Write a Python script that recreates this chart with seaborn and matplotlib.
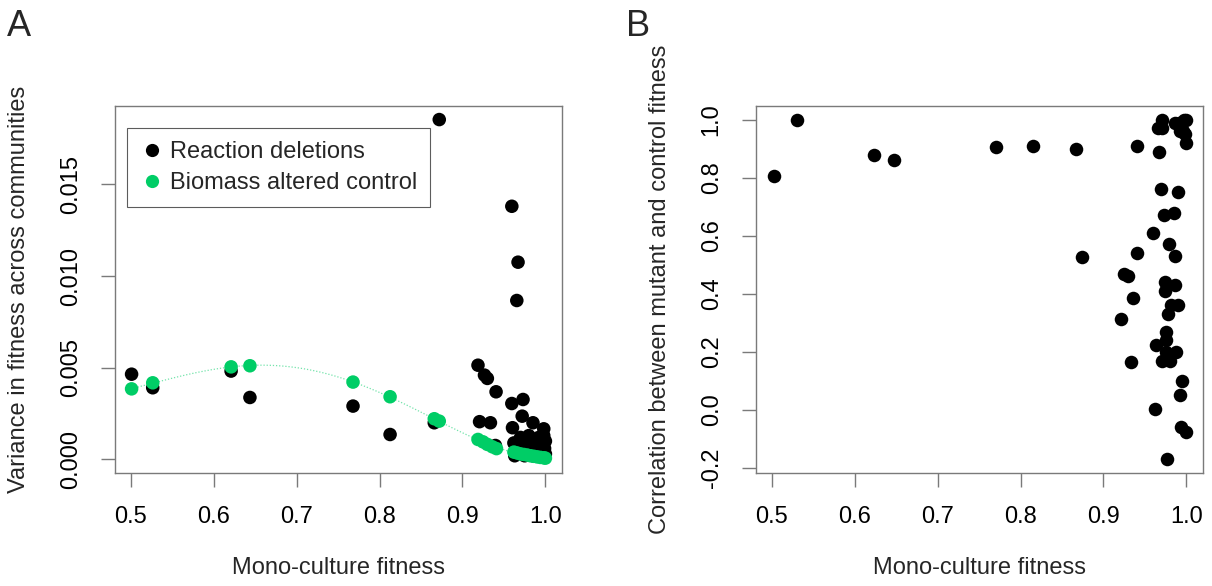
import matplotlib
matplotlib.use("Agg")
import matplotlib.pyplot as plt
import seaborn as sns
import pandas as pd
from matplotlib.lines import Line2D

# ---------------- data ----------------
# Panel A: reaction deletions (black)
del_fit = [0.501, 0.5265, 0.621, 0.6437, 0.768, 0.8127, 0.866, 0.872, 0.9595, 0.967,
           0.9655, 0.9187, 0.9265, 0.930, 0.9405, 0.9595, 0.973, 0.9206, 0.9337, 0.972,
           0.985, 0.9603, 0.998, 0.9397, 0.962, 0.965, 0.968, 0.970, 0.972, 0.975,
           0.977, 0.980, 0.982, 0.984, 0.986, 0.988, 0.990, 0.992, 0.994, 0.996,
           0.998, 0.999, 1.0, 0.975, 0.985, 0.995, 1.0, 0.963]
del_var = [0.00465, 0.00391, 0.00482, 0.00338, 0.00291, 0.00136, 0.0020, 0.01854, 0.01381, 0.01076,
           0.00867, 0.00514, 0.0046, 0.00442, 0.00369, 0.00305, 0.00327, 0.00206, 0.0020, 0.00236,
           0.0020, 0.00173, 0.00167, 0.00076, 0.0009, 0.0006, 0.0004, 0.0012, 0.0008, 0.0011,
           0.0005, 0.0013, 0.0009, 0.0006, 0.0010, 0.0003, 0.0008, 0.0012, 0.0005, 0.0009,
           0.0013, 0.0006, 0.0010, 0.0002, 0.0002, 0.0002, 0.0003, 0.0002]
# Panel A: biomass altered control (green)
ctl_fit = [0.501, 0.5265, 0.621, 0.6437, 0.768, 0.8127, 0.866, 0.872, 0.9187, 0.9247,
           0.930, 0.936, 0.941, 0.962, 0.966, 0.970, 0.974, 0.978, 0.982, 0.986,
           0.990, 0.994, 0.998, 1.0]
ctl_var = [0.00385, 0.00418, 0.00505, 0.00511, 0.00422, 0.00342, 0.00222, 0.00209, 0.00109, 0.00096,
           0.00082, 0.00069, 0.00059, 0.00040, 0.00035, 0.00030, 0.00027, 0.00024, 0.00020, 0.00017,
           0.00014, 0.00011, 0.00009, 0.00007]

# Panel B: correlation between mutant and control fitness
corr_fit = [0.503, 0.530, 0.623, 0.647, 0.770, 0.815, 0.867, 0.874, 0.940, 0.921,
            0.925, 0.929, 0.933, 0.935, 0.940, 0.960, 0.962, 0.963, 0.966, 0.967,
            0.969, 0.970, 0.971, 0.973, 0.974, 0.974, 0.975, 0.975, 0.975, 0.970,
            0.976, 0.979, 0.980, 0.978, 0.981, 0.985, 0.986, 0.986, 0.986, 0.988,
            0.990, 0.990, 0.991, 0.992, 0.992, 0.993, 0.995, 0.997, 0.998, 0.999,
            0.996, 1.0, 1.0, 0.994]
corr_val = [0.806, 1.0, 0.878, 0.862, 0.905, 0.91, 0.90, 0.526, 0.91, 0.315,
            0.47, 0.46, 0.165, 0.385, 0.54, 0.61, 0.005, 0.225, 0.97, 0.89,
            0.76, 1.0, 0.97, 0.67, 0.44, 0.41, 0.27, 0.24, 0.20, 0.17,
            -0.17, 0.57, 0.17, 0.33, 0.36, 0.68, 0.99, 0.53, 0.43, 0.20,
            0.75, 0.36, 0.99, 0.96, 0.05, -0.06, 0.10, 1.0, 0.95, 0.92,
            0.96, -0.075, 1.0, 0.97]

x_ticks = [0.5, 0.6, 0.7, 0.8, 0.9, 1.0]
x_ticklabels = ["0.5", "0.6", "0.7", "0.8", "0.9", "1.0"]
yA_ticks = [0.0, 0.005, 0.010, 0.015]
yA_ticklabels = ["0.000", "0.005", "0.010", "0.015"]
yB_ticks = [-0.2, 0.0, 0.2, 0.4, 0.6, 0.8, 1.0]
yB_ticklabels = ["-0.2", "0.0", "0.2", "0.4", "0.6", "0.8", "1.0"]

GREEN = "#00CD66"
lab_del = "Reaction deletions"
lab_ctl = "Biomass altered control"

# ---------------- style ----------------
sns.set_style("white")
plt.rcParams["font.family"] = ["Liberation Sans", "DejaVu Sans"]
FS = 17
GRAY = "#7a7a7a"

fig = plt.figure(figsize=(12.12, 5.86), dpi=100)
W, H = 1212, 586
axA = fig.add_axes([115 / W, 1 - 473 / H, 447 / W, 367 / H])
axB = fig.add_axes([756 / W, 1 - 473 / H, 447 / W, 367 / H])

dfA = pd.DataFrame({
    "fit": del_fit + ctl_fit,
    "var": del_var + ctl_var,
    "group": [lab_del] * len(del_fit) + [lab_ctl] * len(ctl_fit),
})
sns.scatterplot(data=dfA, x="fit", y="var", hue="group",
                palette={lab_del: "black", lab_ctl: GREEN},
                s=95, linewidth=0, ax=axA, legend=False, zorder=3)
sns.regplot(x=ctl_fit, y=ctl_var, order=4, ci=None, scatter=False, ax=axA,
            line_kws=dict(color=GREEN, lw=0.9, ls=(0, (1, 1.5)), alpha=0.55, zorder=2))

dfB = pd.DataFrame({"fit": corr_fit, "corr": corr_val})
sns.scatterplot(data=dfB, x="fit", y="corr", color="black", s=95, linewidth=0,
                ax=axB, zorder=3)

def style(ax, yt, ytl, ylim, ylabel):
    ax.set_xlim(0.481, 1.02)
    ax.set_ylim(*ylim)
    ax.set_xticks(x_ticks)
    ax.set_xticklabels(x_ticklabels)
    ax.set_yticks(yt)
    ax.set_yticklabels(ytl, rotation=90, va="center")
    ax.tick_params(axis="both", which="major", direction="out", length=10, width=1.0,
                   color=GRAY, labelsize=FS, labelcolor="black", pad=14,
                   bottom=True, left=True)
    for sp in ax.spines.values():
        sp.set_color(GRAY)
        sp.set_linewidth(1.0)
    ax.set_xlabel("Mono-culture fitness", fontsize=FS, labelpad=21)
    ax.set_ylabel(ylabel, fontsize=FS, labelpad=21)

style(axA, yA_ticks, yA_ticklabels, (-0.00074, 0.01928), "Variance in fitness across communities")
style(axB, yB_ticks, yB_ticklabels, (-0.217, 1.047), "Correlation between mutant and control fitness")

handles = [
    Line2D([], [], marker="o", ls="", color="black", markersize=9.5, markeredgewidth=0),
    Line2D([], [], marker="o", ls="", color=GREEN, markersize=9.5, markeredgewidth=0),
]
leg = axA.legend(handles, [lab_del, lab_ctl], loc="upper left",
                 bbox_to_anchor=(0.027, 0.94), borderaxespad=0, fontsize=FS,
                 frameon=True, fancybox=False, edgecolor="#333333",
                 handletextpad=0.25, handlelength=1.0, borderpad=0.55, labelspacing=0.4)
leg.get_frame().set_linewidth(0.8)

fig.text(7 / W, 1 - 36 / H, "A", fontsize=26, ha="left", va="baseline")
fig.text(626 / W, 1 - 36 / H, "B", fontsize=26, ha="left", va="baseline")

fig.savefig("out.png", dpi=100, facecolor="white")
